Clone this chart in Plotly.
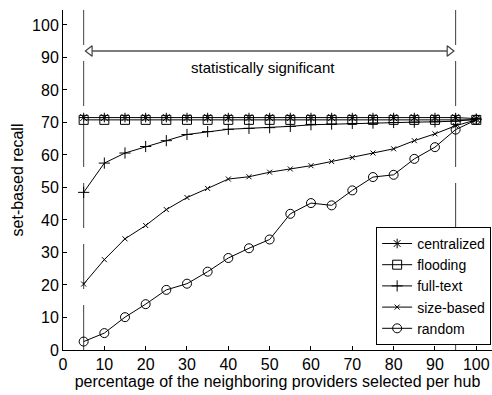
import plotly.graph_objects as go

pct = [5, 10, 15, 20, 25, 30, 35, 40, 45, 50, 55, 60, 65, 70, 75, 80, 85, 90, 95, 100]
centralized = [71.5] * 19 + [71.2]
flooding = [70.8] * 20
full_text = [48.5, 57.5, 60.6, 62.6, 64.4, 66.3, 67.2, 67.9, 68.2, 68.4, 68.8, 69.3,
             69.5, 69.7, 69.8, 70.0, 70.1, 70.2, 70.4, 71.0]
size_based = [20.3, 27.8, 34.2, 38.3, 43.2, 46.9, 49.7, 52.6, 53.3, 54.7, 55.7, 56.7,
              58.0, 59.2, 60.6, 61.9, 64.4, 66.5, 69.0, 70.8]
random_sel = [2.6, 5.2, 10.1, 14.1, 18.5, 20.4, 24.1, 28.3, 31.3, 34.0, 41.9, 45.2,
              44.5, 49.1, 53.2, 53.9, 58.8, 62.4, 67.8, 70.8]

x_ticks = list(range(0, 101, 10))
y_ticks = list(range(0, 101, 10))
band = [5, 95]
band_label = "statistically significant"
arrow_y = 92

FONT = "Liberation Sans, Arial, sans-serif"

fig = go.Figure()

series = [
    ("centralized", centralized, "asterisk-open", 8),
    ("flooding", flooding, "square-open", 9),
    ("full-text", full_text, "cross-thin-open", 8),
    ("size-based", size_based, "x-thin-open", 5),
    ("random", random_sel, "circle-open", 9),
]
for name, vals, sym, sz in series:
    fig.add_trace(go.Scatter(
        x=pct, y=vals, name=name, mode="lines+markers",
        line=dict(color="black", width=1),
        marker=dict(symbol=sym, size=sz, color="black", line=dict(width=1, color="black")),
    ))

# vertical dashed lines delimiting the significant region
for bx in band:
    fig.add_shape(type="line", x0=bx, x1=bx, y0=0, y1=1, xref="x", yref="paper",
                  line=dict(color="#404040", width=1, dash="45px,16px"), layer="below")

# double-headed arrow
head_off = 1.5
base_off = 2.05
fig.add_shape(type="line", x0=band[0] + base_off, x1=band[1] - base_off,
              y0=arrow_y, y1=arrow_y, xref="x", yref="y",
              line=dict(color="#505050", width=1.5))
fig.add_trace(go.Scatter(
    x=[band[0] + head_off, band[1] - head_off], y=[arrow_y, arrow_y], mode="markers",
    marker=dict(symbol=["triangle-left-open", "triangle-right-open"], size=9,
                color="#404040", line=dict(width=1.2, color="#404040")),
    showlegend=False, hoverinfo="skip"))

fig.add_annotation(x=48.4, y=86.8, text=band_label, showarrow=False,
                   font=dict(family=FONT, size=15, color="black"))

fig.update_layout(
    width=492, height=395,
    margin=dict(l=63, r=0, t=10, b=45),
    paper_bgcolor="white", plot_bgcolor="white",
    font=dict(family=FONT, size=16, color="black"),
    legend=dict(x=0.998, xanchor="right", y=0.015, yanchor="bottom",
                bordercolor="black", borderwidth=1, bgcolor="white",
                font=dict(family=FONT, size=14), tracegroupgap=0,
                itemwidth=30),
    showlegend=True,
)
fig.update_xaxes(range=[0, 103.8], tickvals=x_ticks, ticks="inside", ticklen=4,
                 showline=True, linecolor="black", linewidth=1, showgrid=False,
                 zeroline=False, tickcolor="black", tickfont=dict(size=16),
                 title=dict(text="percentage of the neighboring providers selected per hub",
                            standoff=2, font=dict(size=16)))
fig.update_yaxes(range=[0, 104.6], tickvals=y_ticks, ticks="inside", ticklen=4,
                 showline=True, linecolor="black", linewidth=1, showgrid=False,
                 zeroline=False, tickcolor="black", tickfont=dict(size=16),
                 title=dict(text="set-based recall", standoff=4, font=dict(size=16)))

fig.write_html("out.html")
